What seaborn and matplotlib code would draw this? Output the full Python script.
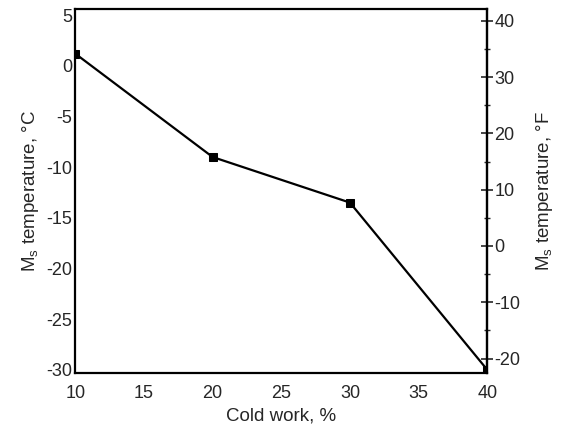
import numpy as np
import pandas as pd
import seaborn as sns
import matplotlib.pyplot as plt

# Ms temperature vs cold work
cold_work = [10, 20, 30, 40]
ms_temp_c = [1.2, -9.0, -13.5, -30.0]

df = pd.DataFrame({"cold_work": cold_work, "ms_c": ms_temp_c})

sns.set_style("ticks")
plt.rcParams["font.family"] = ["Liberation Sans", "DejaVu Sans"]
plt.rcParams["font.size"] = 13
plt.rcParams["axes.unicode_minus"] = False

fig = plt.figure(figsize=(5.62, 4.34), dpi=100)
ax = fig.add_axes([0.134, 0.141, 0.733, 0.838])

sns.lineplot(data=df, x="cold_work", y="ms_c", color="black", linewidth=1.6,
             marker="s", markersize=6, markeredgecolor="black", ax=ax)

ax.set_xlim(10, 40)
ax.set_ylim(-30.3, 5.6)
ax.set_xticks([10, 15, 20, 25, 30, 35, 40])
ax.set_yticks([5, 0, -5, -10, -15, -20, -25, -30])
ax.tick_params(axis="y", length=0, pad=2, labelsize=13)
ax.tick_params(axis="x", length=0, pad=9, labelsize=13)
ax.set_xlabel("Cold work, %", fontsize=13.5, labelpad=4)
ax.set_ylabel("M$_\\mathregular{s}$ temperature, °C", fontsize=13.5, labelpad=4)
for s in ax.spines.values():
    s.set_linewidth(1.6)
    s.set_color("black")

# Fahrenheit axis on the right
sec = ax.secondary_yaxis("right", functions=(lambda c: c * 9 / 5 + 32,
                                             lambda f: (f - 32) * 5 / 9))
sec.set_yticks([40, 30, 20, 10, 0, -10, -20])
sec.set_yticks(np.arange(-20, 41, 5), minor=True)
sec.tick_params(axis="y", which="major", direction="inout", length=8, width=1.2,
                pad=1, labelsize=13)
sec.tick_params(axis="y", which="minor", direction="inout", length=5, width=1.0)
sec.spines["right"].set_linewidth(1.6)
sec.set_ylabel("M$_\\mathregular{s}$ temperature, °F", fontsize=13.5, labelpad=10)

fig.savefig("out.png", dpi=100)
